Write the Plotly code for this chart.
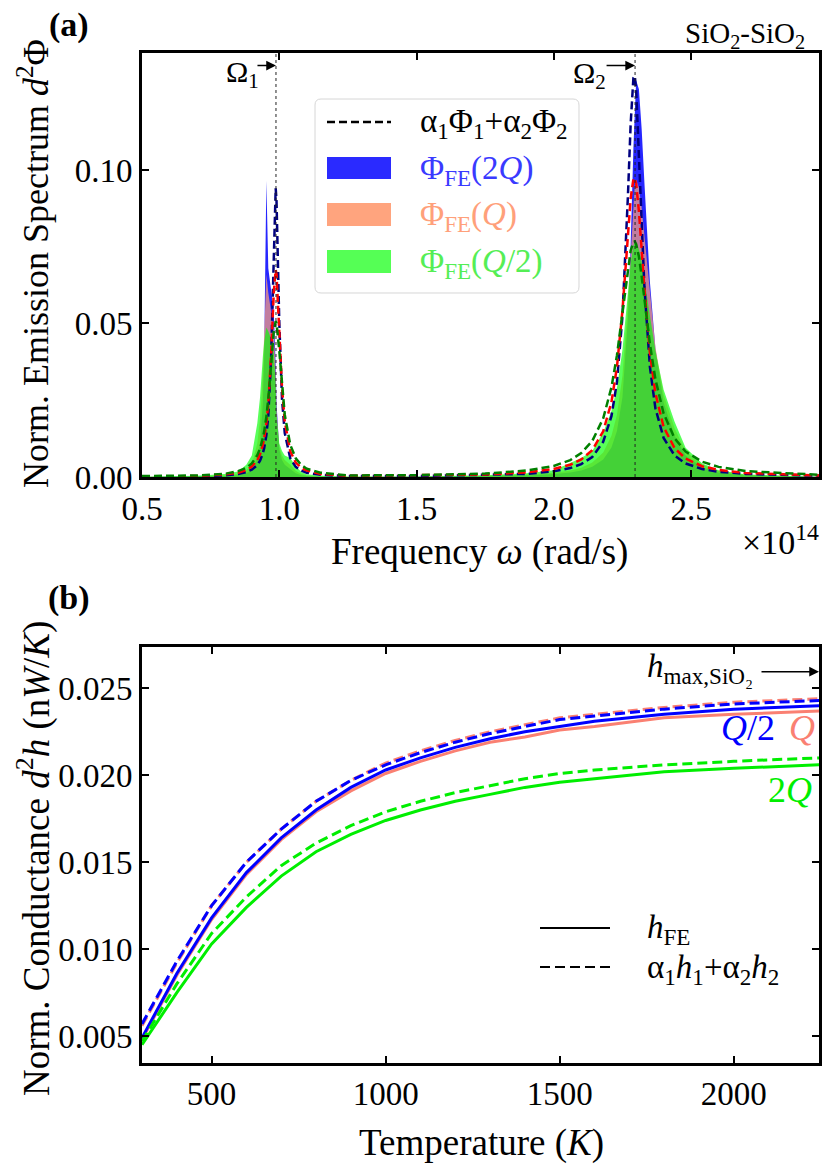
"""
Emission spectrum (a) and conductance (b) for SiO2-SiO2
  Block 0: Setup
  Block 1: Data
  Block 2: Figure
"""

# region Block 0 - Setup
import plotly.graph_objects as go

FONT = "Liberation Serif"
W, H = 830, 1174
# endregion


# region Block 1 - Data
# (a) frequency grid in units of 1e14 rad/s
FREQ = [0.50, 0.70, 0.80, 0.85, 0.88, 0.90, 0.92, 0.93, 0.94, 0.945,
        0.953, 0.96, 0.97, 0.98, 0.987, 0.99, 1.00, 1.01, 1.02, 1.04,
        1.06, 1.08, 1.10, 1.15, 1.25, 1.50,
        1.75, 1.90, 2.00, 2.06, 2.10, 2.14, 2.18, 2.21, 2.23, 2.25,
        2.27, 2.28, 2.29, 2.295, 2.30, 2.31, 2.32, 2.33, 2.35, 2.37,
        2.40, 2.44, 2.48, 2.54, 2.60, 2.70, 2.97]

# full-electrodynamic spectra (filled)
PHI_FE_2Q = [0.0000, 0.0001, 0.0003, 0.0006, 0.0012, 0.0022, 0.0060, 0.0110, 0.0240, 0.0400,
             0.0965, 0.0680, 0.0600, 0.0540, 0.0360, 0.0240, 0.0090, 0.0055, 0.0040, 0.0025,
             0.0012, 0.0006, 0.0003, 0.0001, 0.0000, 0.0001,
             0.0003, 0.0005, 0.0010, 0.0015, 0.0021, 0.0033, 0.0057, 0.0096, 0.0150, 0.0260,
             0.0517, 0.0758, 0.1072, 0.1212, 0.1292, 0.1263, 0.1134, 0.0959, 0.0636, 0.0420,
             0.0243, 0.0135, 0.0070, 0.0032, 0.0015, 0.0005, 0.0001]
PHI_FE_Q = [0.0001, 0.0002, 0.0005, 0.0010, 0.0022, 0.0040, 0.0110, 0.0190, 0.0340, 0.0450,
            0.0660, 0.0600, 0.0540, 0.0480, 0.0330, 0.0220, 0.0100, 0.0070, 0.0055, 0.0040,
            0.0020, 0.0010, 0.0005, 0.0002, 0.0001, 0.0001,
            0.0004, 0.0008, 0.0014, 0.0021, 0.0030, 0.0047, 0.0080, 0.0134, 0.0203, 0.0330,
            0.0571, 0.0740, 0.0899, 0.0950, 0.0968, 0.0943, 0.0877, 0.0784, 0.0587, 0.0425,
            0.0269, 0.0159, 0.0085, 0.0040, 0.0020, 0.0007, 0.0001]
PHI_FE_Q2 = [0.0001, 0.0004, 0.0010, 0.0018, 0.0040, 0.0070, 0.0175, 0.0260, 0.0390, 0.0440,
             0.0487, 0.0475, 0.0450, 0.0410, 0.0300, 0.0200, 0.0110, 0.0085, 0.0070, 0.0062,
             0.0035, 0.0017, 0.0009, 0.0004, 0.0002, 0.0002,
             0.0006, 0.0012, 0.0022, 0.0045, 0.0062, 0.0085, 0.0145, 0.0215, 0.0290, 0.0414,
             0.0602, 0.0694, 0.0754, 0.0765, 0.0763, 0.0742, 0.0702, 0.0648, 0.0526, 0.0412,
             0.0284, 0.0180, 0.0095, 0.0045, 0.0022, 0.0008, 0.0001]

# two-oscillator sums alpha1*Phi1 + alpha2*Phi2 (dashed)
PHI_SUM_2Q = [0.0001, 0.0002, 0.0005, 0.0010, 0.0016, 0.0024, 0.0039, 0.0053, 0.0077, 0.0094,
              0.0136, 0.0199, 0.0380, 0.0752, 0.0940, 0.0899, 0.0505, 0.0254, 0.0143, 0.0061,
              0.0033, 0.0021, 0.0014, 0.0007, 0.0003, 0.0003,
              0.0006, 0.0010, 0.0019, 0.0029, 0.0042, 0.0065, 0.0115, 0.0198, 0.0309, 0.0522,
              0.0915, 0.1151, 0.1300, 0.1306, 0.1260, 0.1060, 0.0821, 0.0619, 0.0359, 0.0224,
              0.0127, 0.0070, 0.0044, 0.0026, 0.0017, 0.0010, 0.0004]
PHI_SUM_Q = [0.0002, 0.0003, 0.0008, 0.0014, 0.0023, 0.0034, 0.0055, 0.0074, 0.0104, 0.0125,
             0.0174, 0.0239, 0.0392, 0.0601, 0.0675, 0.0660, 0.0475, 0.0291, 0.0181, 0.0084,
             0.0047, 0.0030, 0.0021, 0.0010, 0.0004, 0.0005,
             0.0008, 0.0015, 0.0026, 0.0040, 0.0057, 0.0087, 0.0149, 0.0244, 0.0358, 0.0541,
             0.0793, 0.0908, 0.0971, 0.0973, 0.0955, 0.0866, 0.0741, 0.0612, 0.0405, 0.0273,
             0.0163, 0.0094, 0.0060, 0.0035, 0.0023, 0.0013, 0.0005]
PHI_SUM_Q2 = [0.0003, 0.0005, 0.0010, 0.0019, 0.0030, 0.0044, 0.0071, 0.0093, 0.0126, 0.0148,
              0.0196, 0.0254, 0.0363, 0.0475, 0.0507, 0.0501, 0.0412, 0.0294, 0.0203, 0.0105,
              0.0061, 0.0039, 0.0027, 0.0014, 0.0005, 0.0006,
              0.0011, 0.0021, 0.0036, 0.0055, 0.0078, 0.0117, 0.0191, 0.0292, 0.0396, 0.0534,
              0.0682, 0.0738, 0.0765, 0.0767, 0.0758, 0.0718, 0.0654, 0.0579, 0.0434, 0.0319,
              0.0207, 0.0126, 0.0083, 0.0050, 0.0033, 0.0019, 0.0007]

OMEGA = [0.988, 2.296]          # resonance frequencies (1e14 rad/s)
OMEGA_ARROW_Y = 0.134
FREQ_TICKS = [0.5, 1.0, 1.5, 2.0, 2.5]
PHI_TICKS = [0.00, 0.05, 0.10]

# (b) conductance vs temperature
TEMP = [300, 400, 500, 600, 700, 800, 900, 1000, 1100, 1200, 1300, 1400, 1500, 1600, 1800,
        2000, 2250]
H_FE_Q2 = [0.0049, 0.0086, 0.0118, 0.0144, 0.0164, 0.0180, 0.0193, 0.0203, 0.0210, 0.0216,
           0.0221, 0.0225, 0.0228, 0.0231, 0.0235, 0.0238, 0.0240]
H_FE_Q = [0.0048, 0.0085, 0.0117, 0.0143, 0.0163, 0.0179, 0.0191, 0.0201, 0.0208, 0.0214,
          0.0219, 0.0222, 0.0226, 0.0228, 0.0233, 0.0235, 0.0237]
H_FE_2Q = [0.0045, 0.0075, 0.0103, 0.0124, 0.0142, 0.0156, 0.0166, 0.0174, 0.0180, 0.0185,
           0.0189, 0.0193, 0.0196, 0.0198, 0.0202, 0.0204, 0.0206]
H_SUM_Q2 = [0.0057, 0.0093, 0.0125, 0.0150, 0.0169, 0.0185, 0.0197, 0.0206, 0.0213, 0.0219,
            0.0224, 0.0228, 0.0232, 0.0234, 0.0238, 0.0241, 0.0243]
H_SUM_Q = [0.0056, 0.0092, 0.0125, 0.0150, 0.0169, 0.0185, 0.0197, 0.0207, 0.0214, 0.0220,
           0.0225, 0.0229, 0.0233, 0.0235, 0.0239, 0.0242, 0.0244]
H_SUM_2Q = [0.0047, 0.0080, 0.0109, 0.0130, 0.0148, 0.0161, 0.0171, 0.0179, 0.0185, 0.0190,
            0.0194, 0.0198, 0.0201, 0.0203, 0.0206, 0.0208, 0.0210]
H_MAX = 0.02595
TEMP_TICKS = [500, 1000, 1500, 2000]
H_TICKS = [0.005, 0.010, 0.015, 0.020, 0.025]
# endregion


# region Block 2 - Figure
C_BLUE_FILL = "rgba(0,0,255,0.85)"
C_SALMON_FILL = "rgba(255,160,122,0.72)"
C_GREEN_FILL = "rgba(0,255,0,0.65)"

fig = go.Figure()

# --- (a) filled FE spectra
for y, col in [(PHI_FE_2Q, C_BLUE_FILL), (PHI_FE_Q, C_SALMON_FILL), (PHI_FE_Q2, C_GREEN_FILL)]:
    fig.add_trace(go.Scatter(x=FREQ, y=y, mode="lines", fill="tozeroy",
                             fillcolor=col, line=dict(width=0, color=col),
                             showlegend=False, xaxis="x", yaxis="y"))

# --- (a) dashed sums
for y, col in [(PHI_SUM_2Q, "#000080"), (PHI_SUM_Q, "#ff0000"), (PHI_SUM_Q2, "#008000")]:
    fig.add_trace(go.Scatter(x=FREQ, y=y, mode="lines",
                             line=dict(color=col, width=2.5, dash="8px,4px"),
                             showlegend=False, xaxis="x", yaxis="y"))

# --- (b) conductance
for y, col, dash in [(H_FE_Q, "#fa8072", "solid"), (H_SUM_Q, "#fa8072", "10px,5px"),
                     (H_FE_Q2, "#0000ff", "solid"), (H_SUM_Q2, "#0000ff", "10px,5px"),
                     (H_FE_2Q, "#00ee00", "solid"), (H_SUM_2Q, "#00ee00", "10px,5px")]:
    fig.add_trace(go.Scatter(x=TEMP, y=y, mode="lines",
                             line=dict(color=col, width=3, dash=dash),
                             showlegend=False, xaxis="x2", yaxis="y2"))

axis_common = dict(showline=True, linewidth=3, linecolor="black", mirror="ticks",
                   ticks="inside", ticklen=7, tickwidth=1.5, tickcolor="black",
                   showgrid=False, zeroline=False, automargin=False,
                   tickfont=dict(family=FONT, size=33, color="black"))

fig.update_layout(
    width=W, height=H,
    margin=dict(l=0, r=0, t=0, b=0, autoexpand=False),
    paper_bgcolor="white", plot_bgcolor="white",
    font=dict(family=FONT, color="black"),
    showlegend=False,
    xaxis=dict(**axis_common, domain=[142 / W, 819 / W], anchor="y",
               range=[0.5, 2.966], tickvals=FREQ_TICKS,
               ticktext=[f"{v:.1f}" for v in FREQ_TICKS]),
    yaxis=dict(**axis_common, domain=[1 - 477 / H, 1 - 53 / H], anchor="x",
               range=[0, 0.1381], tickvals=PHI_TICKS,
               ticktext=[f"{v:.2f}" for v in PHI_TICKS]),
    xaxis2=dict(**axis_common, domain=[142 / W, 819 / W], anchor="y2",
                range=[300, 2245], tickvals=TEMP_TICKS,
                ticktext=[str(v) for v in TEMP_TICKS]),
    yaxis2=dict(**axis_common, domain=[1 - 1062.7 / H, 1 - 646.7 / H], anchor="x2",
                range=[0.00347, 0.02739], tickvals=H_TICKS,
                ticktext=[f"{v:.3f}" for v in H_TICKS]),
)

shapes = []
ann = []


def px(x, y):
    return x / W, 1 - y / H


def label(text, x, y, size=33, color="black", angle=0, anchor="center"):
    X, Y = px(x, y)
    ann.append(dict(text=text, x=X, y=Y, xref="paper", yref="paper",
                    showarrow=False, textangle=angle, xanchor=anchor, yanchor="middle",
                    font=dict(family=FONT, size=size, color=color)))


def rect(x0, y0, x1, y1, fill, line="rgba(0,0,0,0)", lw=0):
    X0, Y0 = px(x0, y0)
    X1, Y1 = px(x1, y1)
    shapes.append(dict(type="rect", xref="paper", yref="paper", x0=X0, x1=X1, y0=Y1, y1=Y0,
                       fillcolor=fill, line=dict(color=line, width=lw), layer="above"))


def hline(x0, x1, y, color="black", lw=2.5, dash="solid"):
    X0, Y = px(x0, y)
    X1, _ = px(x1, y)
    shapes.append(dict(type="line", xref="paper", yref="paper", x0=X0, x1=X1, y0=Y, y1=Y,
                       line=dict(color=color, width=lw, dash=dash), layer="above"))


# resonance markers
for om in OMEGA:
    shapes.append(dict(type="line", xref="x", yref="y domain", x0=om, x1=om, y0=0, y1=1,
                       line=dict(color="#222222", width=1, dash="dot")))

# legend (a): rounded frame
bx0, by0, bx1, by1, r = 315, 99, 579, 293, 6
p = lambda x, y: "%.5f,%.5f" % px(x, y)
frame = ("M" + p(bx0 + r, by0) + " L" + p(bx1 - r, by0) + " Q" + p(bx1, by0) + " " + p(bx1, by0 + r)
         + " L" + p(bx1, by1 - r) + " Q" + p(bx1, by1) + " " + p(bx1 - r, by1)
         + " L" + p(bx0 + r, by1) + " Q" + p(bx0, by1) + " " + p(bx0, by1 - r)
         + " L" + p(bx0, by0 + r) + " Q" + p(bx0, by0) + " " + p(bx0 + r, by0) + " Z")
shapes.append(dict(type="path", xref="paper", yref="paper", path=frame,
                   fillcolor="rgba(255,255,255,0.8)", line=dict(color="#d6d6d6", width=1),
                   layer="above"))
hline(327, 391, 122, "black", 2.5, "8px,4px")
rect(327, 157, 391, 179, "#2a2aff")
rect(327, 203, 391, 226, "#ffa47e")
rect(327, 250, 391, 273, "#55ff55")
label("α<sub>1</sub>Φ<sub>1</sub>+α<sub>2</sub>Φ<sub>2</sub>", 418, 124, 33, anchor="left")
label("Φ<sub>FE</sub>(2<i>Q</i>)", 418, 170, 33, "#3a3aff", anchor="left")
label("Φ<sub>FE</sub>(<i>Q</i>)", 418, 217, 33, "#ffa07a", anchor="left")
label("Φ<sub>FE</sub>(<i>Q</i>/2)", 418, 264, 33, "#55ee55", anchor="left")

# legend (b)
hline(540, 610, 928, "black", 2, "solid")
hline(540, 610, 967, "black", 2, "10px,5px")
label("<i>h</i><sub>FE</sub>", 645, 930, 33, anchor="left")
label("α<sub>1</sub><i>h</i><sub>1</sub>+α<sub>2</sub><i>h</i><sub>2</sub>", 645, 969, 33, anchor="left")

# texts
label("<b>(a)</b>", 69, 25, 34)
label("<b>(b)</b>", 69, 598, 34)
label("SiO<sub>2</sub>-SiO<sub>2</sub>", 745, 35, 29)
label("×10<sup>14</sup>", 780, 540, 34)
label("Frequency <i>ω</i> (rad/s)", 479, 552, 37)
label("Norm. Emission Spectrum <i>d</i><sup>2</sup>Φ", 34, 264, 36, angle=-90)
label("Temperature (<i>K</i>)", 481, 1143, 37)
label("Norm. Conductance <i>d</i><sup>2</sup><i>h</i> (n<i>W</i>/<i>K</i>)", 34, 859, 37, angle=-90)
label("Ω<sub>1</sub>", 242, 74, 30)
label("Ω<sub>2</sub>", 589, 75, 30)
label("<i>h</i><sub>max,SiO₂</sub>", 700, 668, 33)
label("<i>Q</i>/2", 748, 728, 36, "#0000ff")
label("<i>Q</i>", 802, 728, 36, "#fa8072")
label("2<i>Q</i>", 790, 790, 36, "#00ee00")

# arrows
for om, dx in zip(OMEGA, [-20, -30]):
    ann.append(dict(x=om, y=OMEGA_ARROW_Y, xref="x", yref="y", ax=dx, ay=0,
                    text="", showarrow=True, arrowhead=2, arrowsize=1.3,
                    arrowwidth=1.5, arrowcolor="black"))
ann.append(dict(x=2245, y=H_MAX, xref="x2", yref="y2", ax=-59, ay=0,
                text="", showarrow=True, arrowhead=2, arrowsize=1.3,
                arrowwidth=1.5, arrowcolor="black"))

fig.update_layout(annotations=ann, shapes=shapes)

fig.write_html("out.html", config={"displayModeBar": False},
               post_script="document.body.style.margin='0px';")
# endregion
